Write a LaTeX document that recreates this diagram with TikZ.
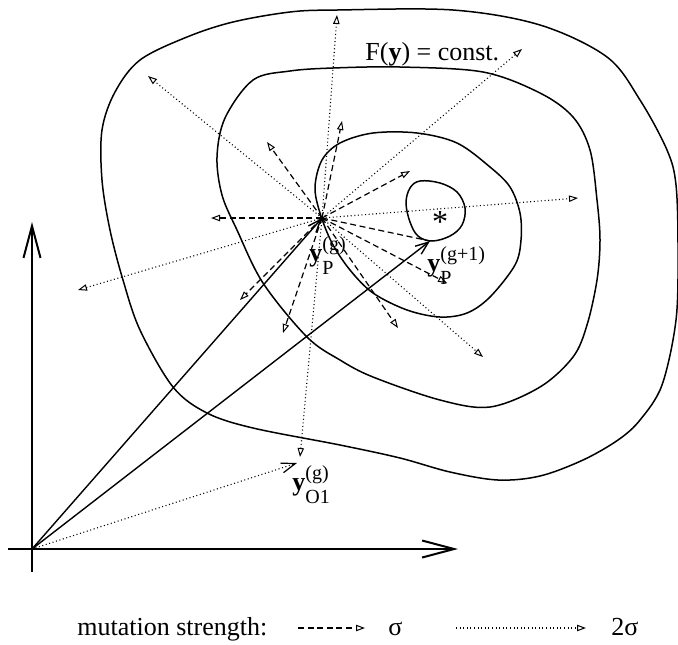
\documentclass[tikz,border=0pt]{standalone}
\usepackage{fontspec}
\setmainfont{Liberation Serif}
\usetikzlibrary{arrows.meta}
\newcommand\vecylab[2]{\textbf{y}\rlap{\raisebox{5.5pt}{\fontsize{10}{10}\selectfont #1}}\raisebox{-6.5pt}{\fontsize{10}{10}\selectfont #2}}
\tikzset{
  contour/.style={line width=0.75pt, line join=round},
  axisline/.style={line width=1pt, -{Straight Barb[length=16pt,width=8.5pt,line width=1pt]}},
  vecline/.style={line width=0.7pt, -{Straight Barb[length=6.5pt,width=5pt,line width=0.7pt]}},
  sigline/.style={line width=0.6pt, dash pattern=on 3pt off 1.8pt, -{Triangle[open,length=4.5pt,width=3.2pt,line width=0.5pt]}},
  sigplain/.style={line width=0.6pt, dash pattern=on 3pt off 1.8pt},
  sigtwo/.style={line width=0.55pt, dash pattern=on 0.5pt off 1.3pt, -{Triangle[open,length=4.5pt,width=3.2pt,line width=0.5pt]}},
  sigtwobarb/.style={line width=0.55pt, dash pattern=on 0.5pt off 1.3pt, -{Straight Barb[length=7pt,width=5pt,line width=0.6pt]}},
  lab/.style={inner sep=0pt, font=\fontsize{13}{15}\selectfont, anchor=base west},
}
\begin{document}
\begin{tikzpicture}[x=0.5pt,y=-0.5pt]
\useasboundingbox (0,0) rectangle (678,644);

% contours
\draw[contour] plot[smooth cycle, tension=0.55] coordinates {
 (233,22) (290,12) (337,10) (453,10) (540,25) (607,57) (640,100) (667,150)
 (676,185) (678,250) (676,320) (662,385) (640,420) (618,440) (583,460)
 (540,476) (498,480) (450,472) (400,458) (340,445) (253,428) (207,413)
 (173,387) (140,330) (123,280) (110,230) (102,180) (102,130) (115,92)
 (140,60) (187,37)};
\draw[contour] plot[smooth cycle, tension=0.55] coordinates {
 (253,80) (290,71) (333,68) (400,67) (483,72) (540,93) (573,117) (590,150)
 (597,200) (600,240) (597,280) (587,325) (573,357) (540,387) (490,407)
 (440,400) (373,377) (340,360) (307,337) (263,283) (237,230) (222,195)
 (217,157) (225,118)};
\draw[contour] plot[smooth cycle, tension=0.55] coordinates {
 (340,143) (373,133) (417,133) (457,143) (490,167) (510,187) (520,213)
 (521,240) (515,265) (490,297) (467,313) (440,317) (407,310) (373,293)
 (350,270) (332,243) (320,213) (315,187) (322,160)};
\draw[contour] plot[smooth cycle, tension=0.6] coordinates {
 (420,181) (440,183) (457,192) (465,208) (462,225) (450,236) (432,241)
 (418,236) (410,222) (406,203) (410,188)};

\node[inner sep=0pt, font=\fontsize{16}{16}\selectfont] (star) at (440,222) {*};

% points
\coordinate (O) at (32,549);
\coordinate (P) at (322,218);
\coordinate (Pn) at (430,241);
\coordinate (Oone) at (297,463);
\coordinate (xs) at (8,549);
\coordinate (xe) at (458,549);
\coordinate (ys) at (32,572);
\coordinate (ye) at (32,222);

% sigma tips
\coordinate (d1) at (267,142);
\coordinate (d2) at (342,121);
\coordinate (d3) at (410,171);
\coordinate (d4) at (211,218);
\coordinate (d5) at (447,283);
\coordinate (d6) at (398,328);
\coordinate (d7) at (283,333);
\coordinate (d8) at (240,300);
% 2 sigma tips
\coordinate (e1) at (148,76);
\coordinate (e2) at (337,15);
\coordinate (e3) at (522,49);
\coordinate (e4) at (578,198);
\coordinate (e5) at (78,290);
\coordinate (e6) at (300,457);
\coordinate (e7) at (483,357);

\foreach \t in {e1,e2,e3,e4,e5,e6,e7} \draw[sigtwo] (P) -- (\t);
\foreach \t in {d1,d2,d3,d4,d5,d6,d7,d8} \draw[sigline] (P) -- (\t);
\draw[sigplain] (P) -- (Pn);

% axes
\draw[axisline] (xs) -- (xe);
\draw[axisline] (ys) -- (ye);

% vectors
\draw[vecline] (O) -- (P);
\draw[vecline] (O) -- (Pn);
\draw[sigtwobarb] (O) -- (Oone);

% labels
\node[lab] (lP) at (309,261) {\vecylab{(g)}{P}};
\node[lab] (lPn) at (427,271) {\vecylab{(g+1)}{P}};
\node[lab] (lO) at (292,490) {\vecylab{(g)}{O1}};
\node[lab] (F) at (365,60) {F(\textbf{y}) = const.};

% legend
\node[lab] (leg) at (77,635) {mutation strength:};
\coordinate (a1) at (298,628);
\coordinate (a2) at (365,628);
\draw[sigline] (a1) -- (a2);
\node[lab] (s1) at (388,635) {σ};
\coordinate (b1) at (456,628);
\coordinate (b2) at (586,628);
\draw[sigtwo] (b1) -- (b2);
\node[lab] (s2) at (611,635) {2σ};
\end{tikzpicture}
\end{document}
